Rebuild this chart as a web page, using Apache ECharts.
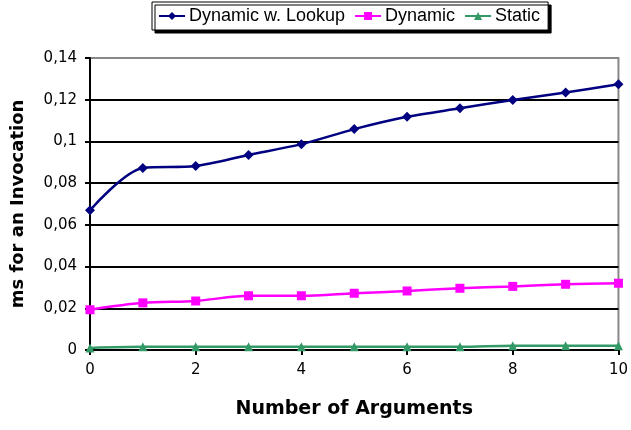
<!DOCTYPE html>
<html>
<head>
<meta charset="utf-8">
<script src="https://cdn.jsdelivr.net/npm/echarts@6/dist/echarts.min.js"></script>
<style>
  html, body { margin: 0; padding: 0; background: #fff; }
  #chart { width: 631px; height: 430px; }
</style>
</head>
<body>
<div id="chart"></div>
<script>
const args = [0, 1, 2, 3, 4, 5, 6, 7, 8, 9, 10];
const dynLookup = [0.067, 0.0873, 0.0882, 0.0935, 0.0987, 0.1059, 0.1118, 0.1159, 0.1199, 0.1235, 0.1274];
const dynamic = [0.0193, 0.0226, 0.0235, 0.026, 0.026, 0.0272, 0.0283, 0.0296, 0.0305, 0.0315, 0.032];
const staticVals = [0.001, 0.0015, 0.0015, 0.0015, 0.0015, 0.0015, 0.0015, 0.0015, 0.002, 0.002, 0.002];

const font = 'Liberation Sans, Arial, Helvetica, sans-serif';
const wideFont = 'DejaVu Sans, Verdana, sans-serif';
const pairs = vals => args.map((a, i) => [a, vals[i]]);

const chart = echarts.init(document.getElementById('chart'));
chart.setOption({
  animation: false,
  textStyle: { fontFamily: font },
  grid: {
    left: 90, right: 11, top: 58, bottom: 80,
    show: true, borderColor: '#888', borderWidth: 2
  },
  legend: {
    top: 2,
    left: 152,
    padding: [5, 8, 5, 6],
    itemGap: 9,
    itemWidth: 26,
    itemHeight: 10,
    borderColor: '#000',
    borderWidth: 1,
    backgroundColor: '#fff',
    shadowColor: '#000',
    shadowOffsetX: 3,
    shadowOffsetY: 3,
    shadowBlur: 0,
    textStyle: { fontFamily: font, fontSize: 18, color: '#000', padding: [0, 0, 0, -1] },
    data: ['Dynamic w. Lookup', 'Dynamic', 'Static']
  },
  xAxis: {
    type: 'value',
    min: 0, max: 10, interval: 2,
    name: 'Number of Arguments',
    nameLocation: 'middle',
    nameGap: 50,
    nameTextStyle: { fontFamily: wideFont, fontSize: 19, fontWeight: 'bold', color: '#000' },
    axisLine: { lineStyle: { color: '#000', width: 2 } },
    axisTick: { show: true, length: 5, lineStyle: { color: '#000', width: 2 } },
    axisLabel: { color: '#000', fontFamily: wideFont, fontSize: 15, margin: 13 },
    splitLine: { show: false }
  },
  yAxis: {
    type: 'value',
    min: 0, max: 0.14, interval: 0.02,
    name: 'ms for an Invocation',
    nameLocation: 'middle',
    nameGap: 63,
    nameTextStyle: { fontFamily: wideFont, fontSize: 18, fontWeight: 'bold', color: '#000' },
    axisLine: { show: true, lineStyle: { color: '#000', width: 2 } },
    axisTick: { show: true, length: 5, lineStyle: { color: '#000', width: 2 } },
    axisLabel: {
      color: '#000', fontFamily: wideFont, fontSize: 15, margin: 13,
      formatter: v => String(+v.toFixed(2)).replace('.', ',')
    },
    splitLine: {
      show: true,
      lineStyle: { color: ['#000', '#000', '#000', '#000', '#000', '#000', '#000', '#888'], width: 2 }
    }
  },
  series: [
    {
      name: 'Dynamic w. Lookup',
      type: 'line',
      smooth: 0.3,
      data: pairs(dynLookup),
      symbol: 'diamond',
      symbolSize: 10,
      lineStyle: { color: '#000080', width: 2.5 },
      itemStyle: { color: '#000080' }
    },
    {
      name: 'Dynamic',
      type: 'line',
      smooth: 0.3,
      data: pairs(dynamic),
      symbol: 'rect',
      symbolSize: 9,
      lineStyle: { color: '#ff00ff', width: 2.5 },
      itemStyle: { color: '#ff00ff' }
    },
    {
      name: 'Static',
      type: 'line',
      smooth: 0.3,
      data: pairs(staticVals),
      symbol: 'triangle',
      symbolSize: 9,
      lineStyle: { color: '#339966', width: 2.5 },
      itemStyle: { color: '#339966' }
    }
  ]
});
</script>
</body>
</html>
